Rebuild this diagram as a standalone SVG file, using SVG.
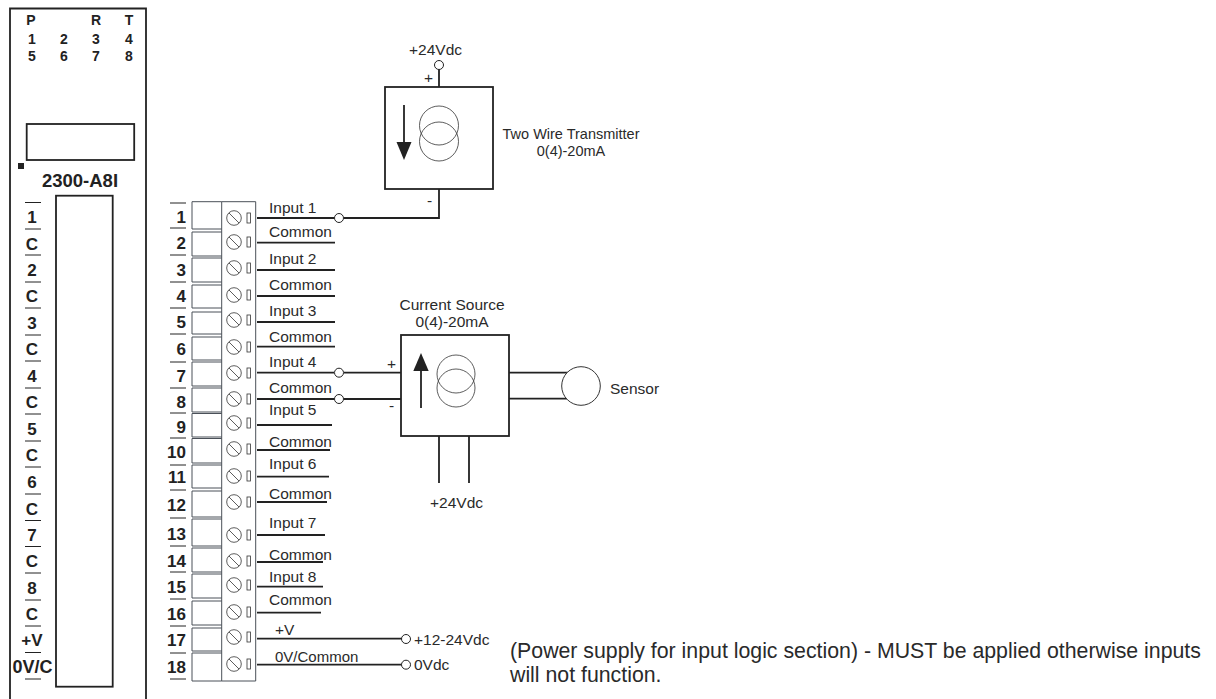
<svg xmlns="http://www.w3.org/2000/svg" width="1216" height="699" viewBox="0 0 1216 699">
<style>
text{font-family:"Liberation Sans",Arial,sans-serif;fill:#2a2a2a;font-size:15.500px}
.b{font-weight:bold;fill:#222;text-anchor:middle}
.h{font-size:14px}
.n{font-size:17px}
.e{text-anchor:end}
.m{text-anchor:middle}
.w{font-size:14.500px}
.p{font-size:21.300px}
.l{stroke:#222;stroke-width:1.800;fill:none}
.r{stroke:#222;stroke-width:1;fill:none}
.f{stroke:#333;stroke-width:1;fill:#fff}
.th{stroke:#333;stroke-width:.8;fill:none}
.u{stroke:#4a5058;stroke-width:1;fill:none}
.o{stroke:#222;stroke-width:1;fill:#fff}
</style>
<rect width="1216" height="699" fill="#fff"/>
<g id="module">
<path class="l" d="M10 699V8.500H146V699"/>
<rect class="l" x="26.700" y="124" width="107.500" height="36"/>
<rect x="18" y="163" width="6" height="6" fill="#222"/>
<rect class="l" x="56" y="195.700" width="56.700" height="491"/>
<text class="b h" x="31" y="25">P</text><text class="b h" x="96" y="25">R</text><text class="b h" x="129" y="25">T</text>
<text class="b h" x="32" y="44">1</text><text class="b h" x="64" y="44">2</text><text class="b h" x="96" y="44">3</text><text class="b h" x="129" y="44">4</text>
<text class="b h" x="32" y="61">5</text><text class="b h" x="64" y="61">6</text><text class="b h" x="96" y="61">7</text><text class="b h" x="129" y="61">8</text>
<text class="b" x="80" y="187" style="font-size:18.500px">2300-A8I</text>
<text class="b n" x="32" y="223">1</text><text class="b n" x="32" y="250">C</text><text class="b n" x="32" y="276">2</text><text class="b n" x="32" y="302">C</text><text class="b n" x="32" y="329">3</text><text class="b n" x="32" y="355">C</text><text class="b n" x="32" y="382">4</text><text class="b n" x="32" y="408">C</text><text class="b n" x="32" y="435">5</text><text class="b n" x="32" y="461">C</text><text class="b n" x="32" y="488">6</text><text class="b n" x="32" y="515">C</text><text class="b n" x="32" y="541">7</text><text class="b n" x="32" y="567">C</text><text class="b n" x="32" y="594">8</text><text class="b n" x="32" y="620">C</text><text class="b n" x="32" y="646">+V</text><text class="b" x="32.500" y="673" style="font-size:18px">0V/C</text>
<path class="r" d="M25 202.500H41M25 229H41M25 255H41M25 282H41M25 308H41M25 335H41M25 361H41M25 388H41M25 414H41M25 441H41M25 467H41M25 494H41M25 520.500H41M25 546.500H41M25 573H41M25 600H41M25 626H41M25 652.500H41M25 679H41"/>
</g>
<g id="terminal">
<path class="u" d="M221.700 201.700H255.700V681H221.700Z"/>
<g class="u">
<path d="M221.700 201.700H192V229H221.700"/><path d="M221.700 232H192V256H221.700"/><path d="M221.700 258H192V282H221.700"/><path d="M221.700 285H192V308H221.700"/><path d="M221.700 312H192V334H221.700"/><path d="M221.700 337H192V360H221.700"/><path d="M221.700 362H192V386H221.700"/><path d="M221.700 388H192V412H221.700"/><path d="M221.700 413.500H192V437H221.700"/><path d="M221.700 438.500H192V463H221.700"/><path d="M221.700 465H192V488H221.700"/><path d="M221.700 491H192V517H221.700"/><path d="M221.700 519H192V546H221.700"/><path d="M221.700 548H192V572H221.700"/><path d="M221.700 574H192V598H221.700"/><path d="M221.700 601H192V625H221.700"/><path d="M221.700 628H192V651H221.700"/><path d="M221.700 653H192V681H221.700"/>
</g>
<defs>
<g id="sc"><circle cx="234" cy="0" r="7.300" class="th"/><path class="th" d="M229 -5L239 5"/><rect class="th" x="247" y="-5" width="3.500" height="10"/></g>
</defs>
<use href="#sc" y="218"/><use href="#sc" y="242"/><use href="#sc" y="268"/><use href="#sc" y="295"/><use href="#sc" y="320"/><use href="#sc" y="347"/><use href="#sc" y="373"/><use href="#sc" y="399"/><use href="#sc" y="423"/><use href="#sc" y="449"/><use href="#sc" y="476"/><use href="#sc" y="502"/><use href="#sc" y="535"/><use href="#sc" y="561"/><use href="#sc" y="585"/><use href="#sc" y="612"/><use href="#sc" y="637"/><use href="#sc" y="664"/>
<text class="b n e" x="186" y="223">1</text><text class="b n e" x="186" y="249">2</text><text class="b n e" x="186" y="276">3</text><text class="b n e" x="186" y="302">4</text><text class="b n e" x="186" y="328">5</text><text class="b n e" x="186" y="355">6</text><text class="b n e" x="186" y="382">7</text><text class="b n e" x="186" y="408">8</text><text class="b n e" x="186" y="433">9</text><text class="b n e" x="186" y="458">10</text><text class="b n e" x="186" y="483">11</text><text class="b n e" x="186" y="511">12</text><text class="b n e" x="186" y="540">13</text><text class="b n e" x="186" y="567">14</text><text class="b n e" x="186" y="593">15</text><text class="b n e" x="186" y="620">16</text><text class="b n e" x="186" y="646">17</text><text class="b n e" x="186" y="673">18</text>
<path class="r" d="M170 203H186M170 228H186M170 255H186M170 282H186M170 308H186M170 334H186M170 362H186M170 388H186M170 413H186M170 438H186M170 465H186M170 490H186M170 518H186M170 546H186M170 572H186M170 599H186M170 626H186M170 653H186M170 679H186"/>
</g>
<g id="connectors">
<path class="l" d="M257 218H334M344 218H439V189M257 242.700H335M257 270H335M257 296H335M257 322H335M257 346.700H335M257 372.700H334M344 372.700H401M257 399H334M344 399H401M257 425H332M257 450H330M257 476.700H329M257 502H327M257 535H325M257 562H323M257 586.700H323M257 612.700H321M257 638.700H402M257 664.700H402"/>
<path class="l" d="M439 87V69M509 372.700H568M509 398.700H568M439 436V483M469 436V483"/>
</g>
<g id="tx">
<rect class="l" x="385" y="87" width="108" height="102"/>
<circle class="th" cx="439" cy="125.500" r="19.500"/><circle class="th" cx="439" cy="141.500" r="19.500"/>
<path class="l" d="M404 105V148"/><path d="M396.500 142H411.500L404 160Z" fill="#222"/>
</g>
<g id="cs">
<rect class="l" x="401" y="335" width="108" height="101"/>
<circle class="th" cx="456" cy="374" r="19"/><circle class="th" cx="456" cy="388" r="19"/>
<path class="l" d="M421 408V365"/><path d="M413.300 371H428.700L421 353Z" fill="#222"/>
</g>
<g id="sensor"><circle class="f" cx="581" cy="386" r="19.300"/></g>
<g id="terminals">
<circle class="o" cx="339" cy="218" r="4.500"/><circle class="o" cx="339" cy="372.700" r="4.500"/><circle class="o" cx="339" cy="399" r="4.500"/><circle class="o" cx="439" cy="65" r="4.500"/><circle class="o" cx="406" cy="639" r="4.500"/><circle class="o" cx="406" cy="664.700" r="4.500"/>
</g>
<g id="labels">
<text x="269" y="213">Input 1</text><text x="269" y="237">Common</text><text x="269" y="264">Input 2</text><text x="269" y="290">Common</text><text x="269" y="316">Input 3</text><text x="269" y="342">Common</text><text x="269" y="367">Input 4</text><text x="269" y="393">Common</text><text x="269" y="415">Input 5</text><text x="269" y="447">Common</text><text x="269" y="469">Input 6</text><text x="269" y="499">Common</text><text x="269" y="528">Input 7</text><text x="269" y="560">Common</text><text x="269" y="582">Input 8</text><text x="269" y="605">Common</text><text x="275" y="635">+V</text><text x="275" y="662" style="font-size:15px">0V/Common</text>
<text x="414" y="645">+12-24Vdc</text><text x="414" y="670">0Vdc</text>
<text x="409" y="55">+24Vdc</text><text x="424" y="83">+</text><text x="427" y="206">-</text>
<text class="m w" x="571" y="139">Two Wire Transmitter</text><text class="m w" x="571" y="156">0(4)-20mA</text>
<text class="m" x="452" y="310">Current Source</text><text class="m" x="452" y="327">0(4)-20mA</text>
<text x="387" y="369">+</text><text x="389" y="411">-</text><text x="610" y="394">Sensor</text><text x="430" y="508">+24Vdc</text>
<text class="p" x="510" y="658">(Power supply for input logic section) - MUST be applied otherwise inputs</text>
<text class="p" x="510" y="682">will not function.</text>
</g>
</svg>
